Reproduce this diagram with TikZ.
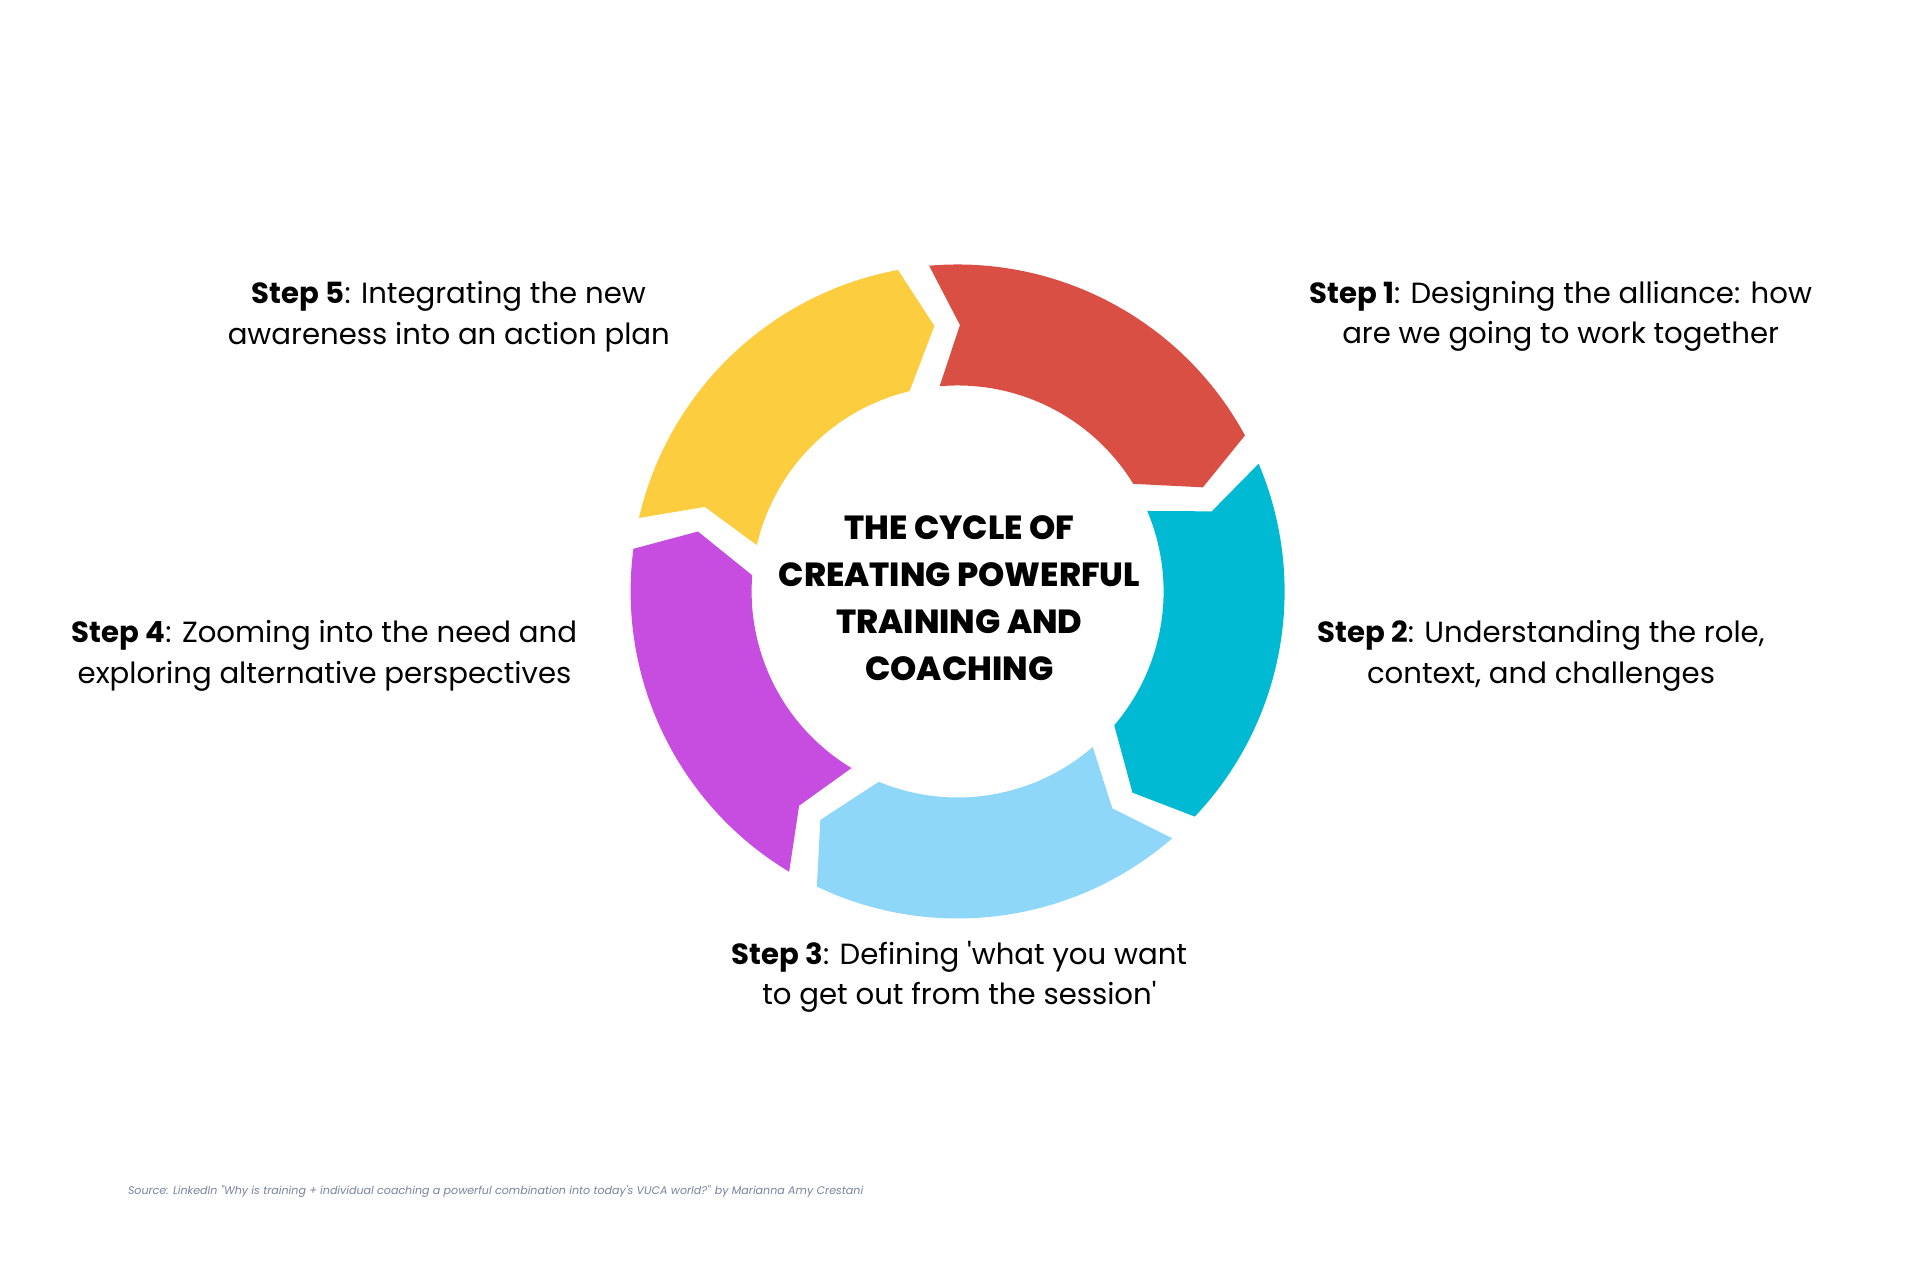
\documentclass[tikz,border=0pt]{standalone}
\usepackage{fontspec}
\setmainfont{Poppins}
\newfontfamily\titlefont{Poppins ExtraBold}
\usepackage{tikz}
\definecolor{CYRed}{HTML}{D94F44}
\definecolor{CYCyan}{HTML}{00BAD4}
\definecolor{CYSky}{HTML}{8ED7F8}
\definecolor{CYPurple}{HTML}{C74CE0}
\definecolor{CYYellow}{HTML}{FDCD40}
\definecolor{CYSource}{HTML}{7882A0}
\tikzset{
  steplabel/.style={align=center,font=\fontsize{8.3}{11.5}\selectfont},
}
\begin{document}
\begin{tikzpicture}[x=1cm,y=1cm]
\path[use as bounding box] (0,0) rectangle (19.20,12.80);
% ring of five arrow segments
\begin{scope}[shift={(9.576,6.885)}]
\fill[CYRed] (95:3.27) arc[start angle=95,end angle=28.5,radius=3.27] -- (23:2.665) -- (31.5:2.06)
  arc[start angle=31.5,end angle=95,radius=2.06] -- (89.5:2.665) -- cycle;
\fill[CYCyan] (23:3.27) arc[start angle=23,end angle=-43.5,radius=3.27] -- (-49:2.665) -- (-40.5:2.06)
  arc[start angle=-40.5,end angle=23,radius=2.06] -- (17.5:2.665) -- cycle;
\fill[CYSky] (-49:3.27) arc[start angle=-49,end angle=-115.5,radius=3.27] -- (-121:2.665) -- (-112.5:2.06)
  arc[start angle=-112.5,end angle=-49,radius=2.06] -- (-54.5:2.665) -- cycle;
\fill[CYPurple] (-121:3.27) arc[start angle=-121,end angle=-187.5,radius=3.27] -- (-193:2.665) -- (-184.5:2.06)
  arc[start angle=-184.5,end angle=-121,radius=2.06] -- (-126.5:2.665) -- cycle;
\fill[CYYellow] (-193:3.27) arc[start angle=-193,end angle=-259.5,radius=3.27] -- (-265:2.665) -- (-256.5:2.06)
  arc[start angle=-256.5,end angle=-193,radius=2.06] -- (-198.5:2.665) -- cycle;
\end{scope}
\node[align=center,font=\fontsize{9.5}{13.35}\selectfont\titlefont] (title) at (9.594,6.818)
  {THE CYCLE OF\\CREATING POWERFUL\\TRAINING AND\\COACHING};
\node[steplabel] (step1) at (15.606,9.634) {\textbf{Step 1}: Designing the alliance: how\\are we going to work together};
\node[steplabel] (step2) at (15.41,6.243) {\textbf{Step 2}: Understanding the role,\\context, and challenges};
\node[steplabel] (step3) at (9.594,3.034) {\textbf{Step 3}: Defining \textquotesingle what you want\\to get out from the session\textquotesingle};
\node[steplabel] (step4) at (3.245,6.243) {\textbf{Step 4}: Zooming into the need and\\exploring alternative perspectives};
\node[steplabel] (step5) at (4.488,9.634) {\textbf{Step 5}: Integrating the new\\awareness into an action plan};
\node[anchor=west,inner sep=0pt,text=CYSource,font=\fontsize{3.15}{4}\selectfont\itshape] (source) at (1.273,0.88)
  {Source: LinkedIn \textquotedbl Why is training + individual coaching a powerful combination into today\textquotesingle s VUCA world?\textquotedbl{} by Marianna Amy Crestani};
\end{tikzpicture}
\end{document}
